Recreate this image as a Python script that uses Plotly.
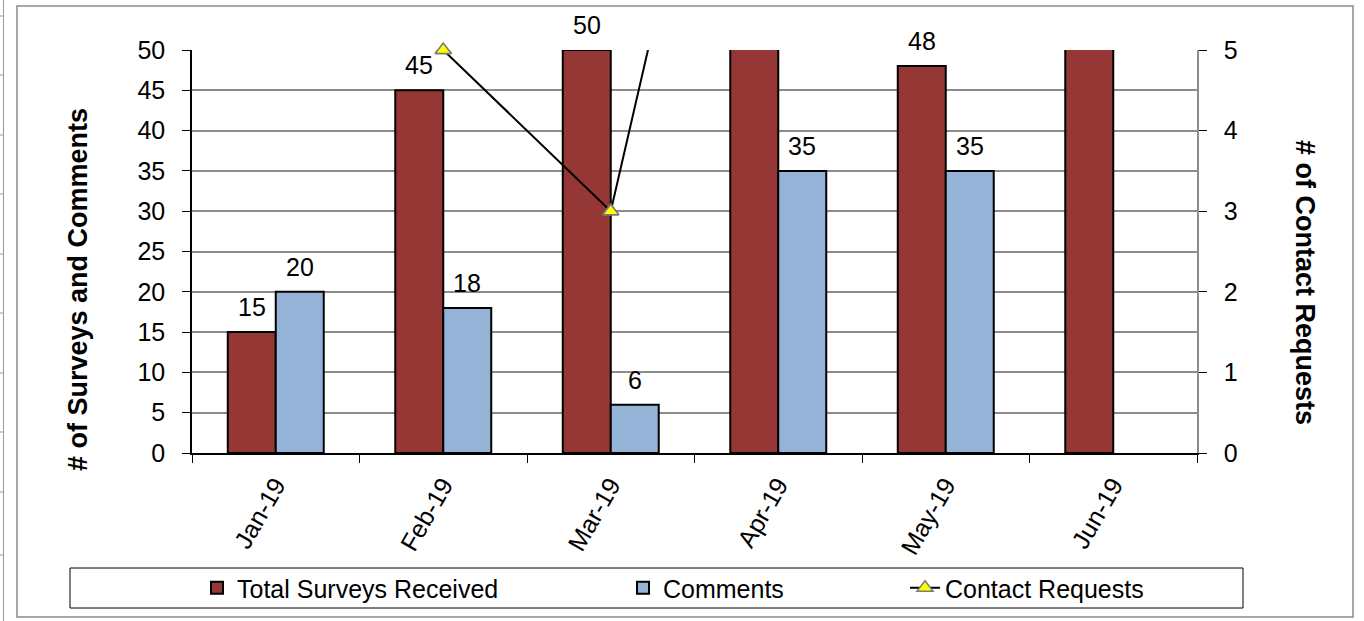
import plotly.graph_objects as go

# Monthly survey figures
months = ["Jan-19", "Feb-19", "Mar-19", "Apr-19", "May-19", "Jun-19"]
total_surveys = [15, 45, 50, 56, 48, 54]
comments = [20, 18, 6, 35, 35, None]
contact_requests = [None, 5, 3, 12, None, None]

LEFT_MAX = 50
RIGHT_MAX = 5

# Figure geometry (pixels)
W, H = 1364, 621
ML, MR, MT, MB = 192, 167, 50, 168
PLOT_W = W - ML - MR
PLOT_H = H - MT - MB
BARGAP = 0.427

FONT = "Liberation Sans, Arial, sans-serif"
FS = 25
RED = "#953735"
BLUE = "#95B3D7"
GRID = "#8c8c8c"


def px_x(p):
    return (p - ML) / PLOT_W


def px_y(p):
    return (H - MB - p) / PLOT_H


fig = go.Figure()

fig.add_bar(
    x=months, y=total_surveys, name="Total Surveys Received",
    marker=dict(color=RED, line=dict(color="black", width=2)),
    legendwidth=381,
)
fig.add_bar(
    x=months, y=comments, name="Comments",
    marker=dict(color=BLUE, line=dict(color="black", width=2)),
    legendwidth=237,
)

tri = dict(symbol="triangle-up", size=14, color="#FFFF00",
           line=dict(color="#7a7a7a", width=1.5))

fig.add_scatter(
    x=months, y=contact_requests, yaxis="y2", name="Contact Requests",
    mode="lines+markers", line=dict(color="black", width=2),
    marker=tri, cliponaxis=True, connectgaps=False,
)
# markers inside the axis range, drawn unclipped so the one at the top edge stays whole
shown = [(m, v) for m, v in zip(months, contact_requests)
         if v is not None and v <= RIGHT_MAX]
fig.add_scatter(
    x=[m for m, _ in shown], y=[v for _, v in shown], yaxis="y2",
    mode="markers", marker=tri, cliponaxis=False, showlegend=False,
    hoverinfo="skip",
)

# value labels above the bars that fit inside the axis range
offset = (1 - BARGAP) / 4
annotations = []
for series, dx in ((total_surveys, -offset), (comments, offset)):
    for i, v in enumerate(series):
        if v is None or v > LEFT_MAX:
            continue
        annotations.append(dict(
            x=i + dx, y=v, xref="x", yref="y", text=str(v),
            showarrow=False, yanchor="bottom", yshift=9,
            font=dict(size=FS, color="black", family=FONT),
        ))

# axis titles
annotations.append(dict(
    text="<b># of Surveys and Comments</b>", xref="paper", yref="paper",
    x=px_x(78), y=px_y(290), textangle=-90, showarrow=False,
    xanchor="center", yanchor="middle",
    font=dict(size=27, color="black", family=FONT),
))
annotations.append(dict(
    text="<b># of Contact Requests</b>", xref="paper", yref="paper",
    x=px_x(1305), y=px_y(282), textangle=90, showarrow=False,
    xanchor="center", yanchor="middle",
    font=dict(size=27, color="black", family=FONT),
))

shapes = [
    # chart frame
    dict(type="rect", xref="paper", yref="paper",
         x0=px_x(17), x1=px_x(1353), y0=px_y(617), y1=px_y(6),
         line=dict(color="#8a8a8a", width=1.5)),
    # legend frame
    dict(type="rect", xref="paper", yref="paper",
         x0=px_x(70), x1=px_x(1243), y0=px_y(608), y1=px_y(568),
         line=dict(color="black", width=1)),
    # sheet cell border on the far left
    dict(type="line", xref="paper", yref="paper",
         x0=px_x(3.5), x1=px_x(3.5), y0=px_y(0), y1=px_y(621),
         line=dict(color="#9a9a9a", width=1)),
]
for yy in (16, 75, 135, 194, 254, 313, 373, 432, 492, 555):
    shapes.append(dict(type="line", xref="paper", yref="paper",
                       x0=px_x(0), x1=px_x(3.5), y0=px_y(yy), y1=px_y(yy),
                       line=dict(color="#9a9a9a", width=1)))

fig.update_layout(
    width=W, height=H,
    margin=dict(l=ML, r=MR, t=MT, b=MB, autoexpand=False),
    paper_bgcolor="white", plot_bgcolor="white",
    font=dict(family=FONT, size=FS, color="black"),
    barmode="group", bargap=BARGAP, bargroupgap=0,
    showlegend=True,
    legend=dict(
        orientation="h", x=px_x(197), xanchor="left",
        y=px_y(588), yanchor="middle",
        font=dict(size=FS, family=FONT, color="black"),
        bgcolor="rgba(0,0,0,0)", borderwidth=0,
        traceorder="normal",
    ),
    xaxis=dict(
        type="category", categoryorder="array", categoryarray=months,
        tickson="boundaries", ticks="outside", ticklen=8, tickcolor="black",
        showline=True, linecolor="black", linewidth=1.5,
        tickangle=-60, tickfont=dict(size=FS),
        showgrid=False, ticklabelstandoff=6,
    ),
    yaxis=dict(
        range=[0, LEFT_MAX], dtick=5, ticks="outside", ticklen=8,
        tickcolor="black", showline=True, linecolor="black", linewidth=1.5,
        showgrid=True, gridcolor=GRID, gridwidth=1.5, zeroline=False,
        tickfont=dict(size=FS), ticklabelstandoff=12,
    ),
    yaxis2=dict(
        range=[0, RIGHT_MAX], dtick=1, overlaying="y", side="right",
        ticks="outside", ticklen=8, tickcolor="black",
        showline=True, linecolor=GRID, linewidth=1.5,
        showgrid=False, zeroline=False,
        tickfont=dict(size=FS), ticklabelstandoff=12,
    ),
    annotations=annotations,
    shapes=shapes,
)

fig.write_html("out.html")
